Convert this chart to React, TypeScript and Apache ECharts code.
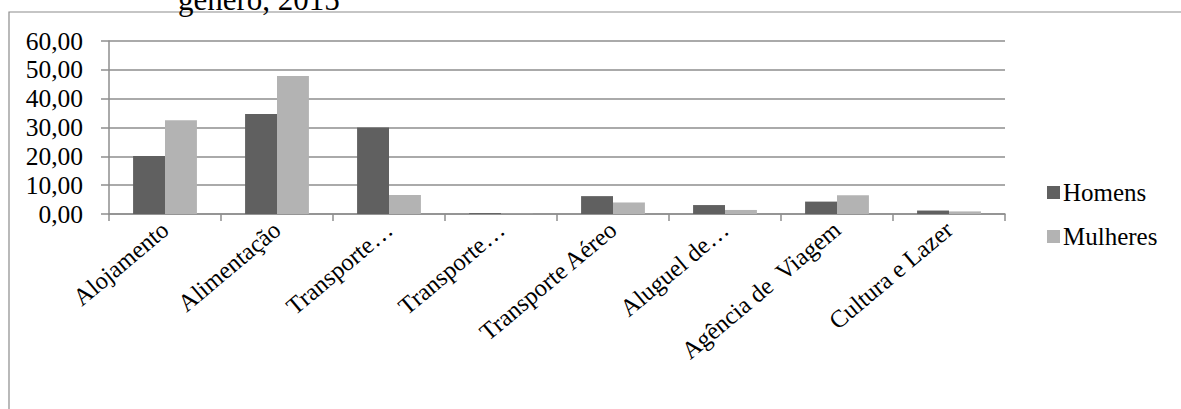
import React, { useEffect, useRef } from "react";
import * as echarts from "echarts";

const categories = [
  "Alojamento",
  "Alimentação",
  "Transporte…",
  "Transporte…",
  "Transporte Aéreo",
  "Aluguel de…",
  "Agência de  Viagem",
  "Cultura e Lazer",
];
const homens = [20.1, 34.7, 30.0, 0.3, 6.2, 3.1, 4.3, 1.2];
const mulheres = [32.5, 47.9, 6.6, 0.1, 4.0, 1.4, 6.5, 0.9];
const yTicks = [0, 10, 20, 30, 40, 50, 60];

const FONT = "'Liberation Serif', 'Times New Roman', serif";
const GRID_GREY = "#8e8e8e";

export default function App() {
  const ref = useRef<HTMLDivElement>(null);
  useEffect(() => {
    if (!ref.current) return;
    const chart = echarts.init(ref.current, null, { renderer: "svg" });
    chart.setOption({
      animation: false,
      backgroundColor: "#ffffff",
      textStyle: { fontFamily: FONT },
      graphic: [
        {
          type: "rect",
          shape: { x: 9, y: 12, width: 1200, height: 420 },
          style: { fill: "none", stroke: "#8c8c8c", lineWidth: 1.2 },
          silent: true,
        },
        {
          type: "text",
          x: 178,
          y: -1,
          style: {
            text: "gênero, 2015",
            font: `31px ${FONT}`,
            fill: "#000",
            verticalAlign: "middle",
          },
        },
      ],
      legend: {
        orient: "vertical",
        left: 1047,
        top: 180,
        padding: 0,
        itemWidth: 13,
        itemHeight: 13,
        itemGap: 19,
        icon: "rect",
        textStyle: { fontFamily: FONT, fontSize: 25, color: "#000", padding: [0, 0, 0, -2] },
        data: ["Homens", "Mulheres"],
      },
      grid: { left: 109, top: 41, right: 176, bottom: 195 },
      xAxis: {
        type: "category",
        data: categories,
        axisLine: { lineStyle: { color: GRID_GREY, width: 1.5 } },
        axisTick: { show: true, length: 7, interval: 0, lineStyle: { color: GRID_GREY, width: 1.5 } },
        axisLabel: {
          interval: 0,
          rotate: 40,
          margin: 12,
          fontFamily: FONT,
          fontSize: 24.5,
          color: "#000",
        },
      },
      yAxis: {
        type: "value",
        min: 0,
        max: 60,
        interval: 10,
        axisLine: { show: true, lineStyle: { color: GRID_GREY, width: 1.5 } },
        axisTick: { show: true, length: 8, lineStyle: { color: GRID_GREY, width: 1.5 } },
        splitLine: { lineStyle: { color: GRID_GREY, width: 1.5 } },
        axisLabel: {
          fontFamily: FONT,
          fontSize: 25.5,
          color: "#000",
          margin: 26,
          formatter: (v: number) =>
            yTicks.includes(v) ? v.toFixed(2).replace(".", ",") : "",
        },
      },
      series: [
        {
          name: "Homens",
          type: "bar",
          data: homens,
          itemStyle: { color: "#606060" },
          barGap: "0%",
          barCategoryGap: "43%",
        },
        {
          name: "Mulheres",
          type: "bar",
          data: mulheres,
          itemStyle: { color: "#b3b3b3" },
        },
      ],
    });
    return () => chart.dispose();
  }, []);
  return (
    <div
      ref={ref}
      style={{ position: "fixed", left: 0, top: 0, width: 1181, height: 409, background: "#fff" }}
    />
  );
}
